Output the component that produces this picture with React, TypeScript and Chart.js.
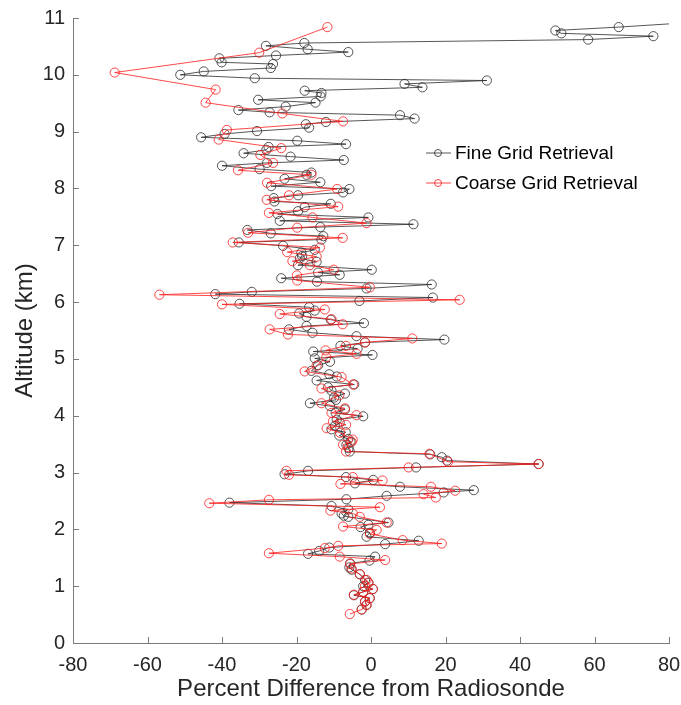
import React, { useEffect, useRef } from 'react';
import { Chart, registerables } from 'chart.js';
Chart.register(...registerables);

// Fine Grid Retrieval (altitude km, percent difference)
const fineAlt = [
  0.59, 0.67, 0.73, 0.79, 0.84, 0.90, 0.95, 1.00, 1.06, 1.11, 1.21, 1.29, 1.33, 1.40, 1.45, 1.52, 1.57, 1.62, 1.68, 1.74,
  1.80, 1.87, 1.94, 2.04, 2.08, 2.12, 2.22, 2.24, 2.28, 2.35, 2.41, 2.47, 2.53, 2.59, 2.65, 2.69, 2.75, 2.81, 2.87, 2.92,
  2.97, 3.03, 3.09, 3.15, 3.21, 3.27, 3.32, 3.37, 3.43, 3.49, 3.54, 3.59, 3.65, 3.71, 3.76, 3.82, 3.88, 3.93, 3.99, 4.05,
  4.11, 4.17, 4.22, 4.28, 4.32, 4.39, 4.44, 4.50, 4.55, 4.62, 4.69, 4.73, 4.79, 4.89, 4.95, 5.01, 5.07, 5.13, 5.18, 5.23,
  5.29, 5.34, 5.40, 5.46, 5.52, 5.58, 5.63, 5.69, 5.74, 5.80, 5.85, 5.91, 5.97, 6.02, 6.08, 6.14, 6.18, 6.24, 6.31, 6.36,
  6.42, 6.48, 6.52, 6.57, 6.65, 6.71, 6.77, 6.81, 6.87, 6.92, 6.99, 7.05, 7.10, 7.16, 7.21, 7.27, 7.32, 7.37, 7.43, 7.49,
  7.55, 7.60, 7.67, 7.73, 7.77, 7.83, 7.88, 7.93, 7.99, 8.04, 8.11, 8.17, 8.24, 8.28, 8.34, 8.40, 8.45, 8.50, 8.56, 8.62,
  8.68, 8.73, 8.78, 8.84, 8.90, 8.96, 9.01, 9.07, 9.13, 9.17, 9.23, 9.29, 9.34, 9.38, 9.44, 9.51, 9.56, 9.62, 9.68, 9.72,
  9.78, 9.84, 9.90, 9.94, 10.00, 10.06, 10.12, 10.19, 10.22, 10.29, 10.34, 10.40, 10.45, 10.51, 10.56, 10.62, 10.68, 10.73, 10.78, 10.84,
  10.93,
];
const fineDiff = [
  -2.5, -1.2, -1.6, -0.3, -4.6, -2.1, 0.5, -2.1, -0.7, -1.6, -3.0, -5.2, -5.8, -5.6, -0.4, 1.1, -16.9, -13.9, -11.2, 3.8,
  12.8, -1.2, -0.3, -2.8, -0.7, 4.7, -6.1, -7.3, -7.9, -6.1, -10.6, -38.0, -6.6, 4.2, 19.5, 27.6, 7.8, -4.3, 0.6, -6.7,
  -23.2, -16.9, 12.1, 45.0, 20.4, 19.0, 15.9, -5.7, -6.0, -6.6, -5.5, -6.1, -8.5, -6.8, -10.6, -9.7, -8.4, -9.2, -2.1, -9.5,
  -7.0, -11.0, -16.4, -9.4, -9.9, -7.0, -10.6, -11.5, -4.5, -14.6, -9.2, -11.2, -16.0, -14.2, -11.0, -15.1, 0.4, -15.5, -3.6, -8.2,
  -1.6, 19.7, -3.9, -15.7, -22.0, -17.3, -1.9, -10.8, -17.3, -19.3, -15.1, -16.6, -35.3, -3.1, 16.6, -41.8, -32.0, -1.2, 16.3, -14.5,
  -24.1, -8.4, -14.2, 0.2, -19.6, -14.6, -19.1, -18.5, -18.7, -15.1, -23.6, -35.5, -13.3, -12.8, -26.9, -33.2, -13.6, 11.4, -24.5, -0.7,
  -25.1, -19.6, -17.8, -10.8, -25.9, -26.1, -19.6, -7.5, -5.8, -26.8, -13.6, -23.2, -17.3, -16.0, -29.9, -40.0, -27.9, -7.3, -21.6, -34.2,
  -28.1, -27.5, -6.7, -19.8, -45.6, -39.3, -30.6, -16.6, -17.5, -12.1, 11.7, 7.8, -27.2, -35.6, -22.9, -14.9, -30.3, -13.5, -13.3, -17.8,
  13.8, 9.0, 31.1, -31.2, -51.2, -44.9, -26.9, -26.3, -40.1, -40.7, -25.5, -6.1, -17.0, -28.2, -17.9, 58.3, 75.8, 51.1, 49.5, 66.5,
  88.0,
];

// Coarse Grid Retrieval
const coarseAlt = [
  0.51, 0.59, 0.67, 0.73, 0.79, 0.85, 0.90, 0.95, 1.00, 1.06, 1.11, 1.21, 1.31, 1.39, 1.46, 1.52, 1.58, 1.67, 1.71, 1.75,
  1.81, 1.92, 1.99, 2.05, 2.12, 2.22, 2.28, 2.33, 2.39, 2.46, 2.52, 2.56, 2.62, 2.68, 2.75, 2.80, 2.86, 2.92, 2.96, 3.03,
  3.09, 3.15, 3.19, 3.33, 3.37, 3.49, 3.54, 3.58, 3.70, 3.78, 3.84, 3.90, 4.01, 4.05, 4.13, 4.22, 4.36, 4.48, 4.55, 4.68,
  4.78, 4.88, 5.03, 5.09, 5.15, 5.23, 5.29, 5.36, 5.43, 5.52, 5.61, 5.70, 5.79, 5.87, 5.96, 6.04, 6.13, 6.26, 6.38, 6.47,
  6.57, 6.65, 6.72, 6.80, 6.88, 6.96, 7.05, 7.13, 7.22, 7.31, 7.39, 7.49, 7.57, 7.68, 7.80, 7.88, 7.99, 8.10, 8.24, 8.32,
  8.45, 8.59, 8.71, 8.86, 9.03, 9.18, 9.32, 9.51, 9.74, 10.04, 10.39, 10.84,
];
const coarseDiff = [
  -5.7, -2.5, -1.2, -1.6, -0.4, -4.6, -2.1, 0.5, -1.6, -0.7, -1.2, -3.0, -5.2, -5.6, 3.8, -8.4, -27.4, -12.4, -8.8, 19.0,
  8.5, -0.3, 1.5, -7.5, 4.2, -3.0, -4.9, -10.9, 2.4, -43.4, -27.4, 17.4, 14.1, 22.6, 16.1, -8.2, 3.1, -4.9, -22.0, -22.7,
  10.1, 45.0, 20.7, 15.7, -6.7, -7.5, -5.2, -4.9, -8.3, -11.9, -6.7, -10.2, -3.9, -10.6, -7.0, -13.3, -8.5, -13.3, -4.8, -7.9,
  -17.8, -14.6, -12.0, -3.9, -12.2, -6.7, -1.6, 11.1, -22.3, -27.2, -7.6, -10.6, -24.5, -12.4, -40.0, 23.8, -56.8, -0.3, -19.8, -19.9,
  -10.0, -16.4, -21.1, -14.6, -22.5, -13.7, -37.1, -7.6, -33.0, -19.8, -1.2, -15.7, -27.4, -8.8, -28.0, -22.0, -9.1, -27.9, -16.0, -35.7,
  -26.3, -29.7, -24.1, -40.9, -38.7, -7.5, -23.8, -44.4, -41.7, -68.8, -30.0, -11.7,
];

const xTicks = [-80, -60, -40, -20, 0, 20, 40, 60, 80];
const yTicks = [0, 1, 2, 3, 4, 5, 6, 7, 8, 9, 10, 11];
const seriesNames = ['Fine Grid Retrieval', 'Coarse Grid Retrieval'];

const FONT = '"Liberation Sans", Arial, Helvetica, sans-serif';
const AXIS_COLOR = '#7a7a7a';
const TEXT_COLOR = '#262626';
const FINE_COLOR = '#2b2b2b';
const COARSE_COLOR = '#ff1a1a';

const toPoints = (alt: number[], diff: number[]) => alt.map((a, i) => ({ x: diff[i], y: a }));

const decorPlugin = {
  id: 'decor',
  afterDraw(chart: any) {
    const { ctx, chartArea, scales } = chart;
    const xs = scales.x;
    const ys = scales.y;
    ctx.save();
    ctx.strokeStyle = AXIS_COLOR;
    ctx.lineWidth = 1;
    ctx.beginPath();
    for (const v of xTicks) {
      const px = Math.round(xs.getPixelForValue(v)) + 0.5;
      ctx.moveTo(px, chartArea.bottom);
      ctx.lineTo(px, chartArea.bottom - 6);
    }
    for (const v of yTicks) {
      const py = Math.round(ys.getPixelForValue(v)) + 0.5;
      ctx.moveTo(chartArea.left, py);
      ctx.lineTo(chartArea.left + 6, py);
    }
    ctx.stroke();

    // legend
    const lx = chartArea.left + 353;
    const rows = [
      { name: seriesNames[0], color: FINE_COLOR, y: chartArea.top + 135 },
      { name: seriesNames[1], color: COARSE_COLOR, y: chartArea.top + 165 },
    ];
    ctx.font = `19px ${FONT}`;
    ctx.textBaseline = 'middle';
    ctx.textAlign = 'left';
    for (const r of rows) {
      ctx.strokeStyle = r.color;
      ctx.lineWidth = 0.8;
      ctx.beginPath();
      ctx.moveTo(lx, r.y);
      ctx.lineTo(lx + 25, r.y);
      ctx.stroke();
      ctx.beginPath();
      ctx.arc(lx + 12, r.y, 3.5, 0, Math.PI * 2);
      ctx.stroke();
      ctx.fillStyle = '#000';
      ctx.fillText(r.name, lx + 29, r.y + 1);
    }
    ctx.restore();
  },
};

export default function App() {
  const ref = useRef<HTMLCanvasElement | null>(null);
  useEffect(() => {
    if (!ref.current) return;
    const chart = new Chart(ref.current, {
      type: 'scatter',
      data: {
        datasets: [
          {
            label: seriesNames[1],
            data: toPoints(coarseAlt, coarseDiff),
            showLine: true,
            borderColor: COARSE_COLOR,
            borderWidth: 0.8,
            pointRadius: 4.6,
            pointBorderWidth: 0.8,
            pointBorderColor: COARSE_COLOR,
            pointBackgroundColor: 'rgba(0,0,0,0)',
            order: 0,
          },
          {
            label: seriesNames[0],
            data: toPoints(fineAlt, fineDiff),
            showLine: true,
            borderColor: FINE_COLOR,
            borderWidth: 0.8,
            pointRadius: 4.6,
            pointBorderWidth: 0.8,
            pointBorderColor: FINE_COLOR,
            pointBackgroundColor: 'rgba(0,0,0,0)',
            order: 1,
          },
        ],
      },
      options: {
        animation: false,
        responsive: false,
        layout: { padding: { top: 18, right: 12, left: 0, bottom: 0 } },
        plugins: { legend: { display: false }, tooltip: { enabled: false } },
        scales: {
          x: {
            type: 'linear',
            min: -80,
            max: 80,
            afterFit: (s: any) => { s.height = 62; s.paddingLeft = 0; s.paddingRight = 0; },
            ticks: { stepSize: 20, color: TEXT_COLOR, font: { size: 20, family: FONT }, padding: 10 },
            grid: { display: false, drawTicks: false },
            border: { display: true, color: AXIS_COLOR, width: 1 },
            title: {
              display: true,
              text: 'Percent Difference from Radiosonde',
              color: TEXT_COLOR,
              font: { size: 24, family: FONT },
              padding: { top: 0, bottom: 1 },
            },
          },
          y: {
            type: 'linear',
            min: 0,
            max: 11,
            afterFit: (s: any) => { s.width = 73; s.paddingTop = 0; s.paddingBottom = 0; },
            ticks: { stepSize: 1, color: TEXT_COLOR, font: { size: 20, family: FONT }, padding: 8 },
            grid: { display: false, drawTicks: false },
            border: { display: true, color: AXIS_COLOR, width: 1 },
            title: {
              display: true,
              text: 'Altitude (km)',
              color: TEXT_COLOR,
              font: { size: 24, family: FONT },
              padding: { top: 11, bottom: 0 },
            },
          },
        },
      },
      plugins: [decorPlugin],
    });
    return () => chart.destroy();
  }, []);
  return (
    <div style={{ position: 'fixed', left: 0, top: 0, width: 681, height: 705, background: '#fff' }}>
      <canvas ref={ref} width={681} height={705} style={{ display: 'block' }} />
    </div>
  );
}
